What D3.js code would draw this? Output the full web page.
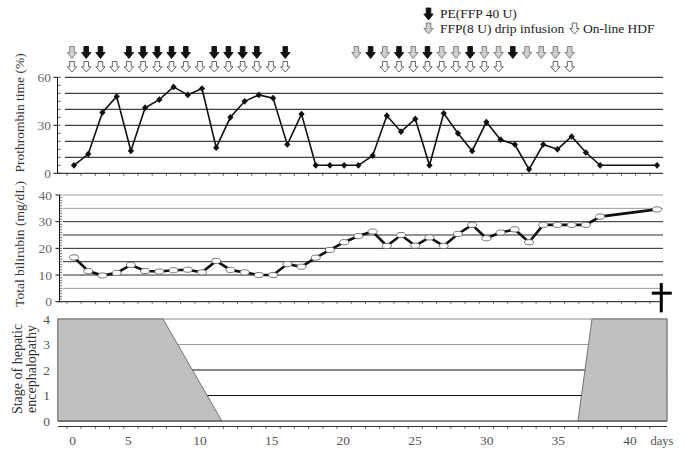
<!DOCTYPE html>
<html>
<head>
<meta charset="utf-8">
<script src="https://cdn.jsdelivr.net/npm/d3@7"></script>
<style>
  html, body { margin: 0; padding: 0; background: #fff; }
  svg { display: block; }
</style>
</head>
<body>
<svg id="chart" width="685" height="452" font-family="'Liberation Serif', 'Times New Roman', 'DejaVu Serif', serif"></svg>
<script>
// ---------------- DATA ----------------
const days = [0,1,2,3,4,5,6,7,8,9,10,11,12,13,14,15,16,17,18,19,20,21,22,23,24,25,26,27,28,29,30,31,32,33,34,35,36,37,41];
const prothrombin = [5,12,38,48,14,41,46,54,49,53,16,35,45,49,47,18,37,5,5,5,5,11,36,26,34,5,37.5,25,14,32,21,18,2.5,18,15,23,13,5,5];
const bilirubin = [16.6,11.5,9.8,10.8,13.8,11.5,11.3,11.8,12,11,15.3,11.9,11,10,10,14.1,13.1,16.5,19.4,22.3,24.6,26.3,20.9,25,21,24.1,20.9,25.4,28.8,23.8,25.9,27.1,22.3,28.8,28.8,28.8,28.8,31.9,34.6];
const peDays = [1,2,4,5,6,7,8,10,11,12,13,15,21,23,25,28,31];
const ffpDripDays = [0,20,22,24,26,27,29,30,32,33,34,35];
const hdfDays = [0,1,2,3,4,5,6,7,8,9,10,11,12,13,14,15,22,23,24,25,26,27,28,29,30,34,35];
const stageDays = [-1.13, 6.26, 10.4, 35.44, 36.43, 41.7];
const stageValues = [4, 4, 0, 0, 4, 4];
const deathDay = 41.3;
const dayTickLabels = [0,5,10,15,20,25,30,35,40];
const ptTicks = [0,30,60];
const tbTicks = [0,10,20,30,40];
const stageTicks = [0,1,2,3,4];
const legendItems = ["PE(FFP 40 U)", "FFP(8 U) drip infusion", "On-line HDF"];
const yTitles = ["Prothrombin time (%)", "Total bilirubin (mg/dL)"];
const stageTitle = ["Stage of hepatic", "encephalopathy"];

// ---------------- SCALES ----------------
const svg = d3.select("#chart");
const x = d3.scaleLinear().domain([0, 41]).range([74, 657]);
const xLab = d3.scaleLinear().domain([0, 5, 40]).range([72.7, 128.3, 630]);
const yPT = d3.scaleLinear().domain([0, 60]).range([173.3, 77.3]);
const yTB = d3.scaleLinear().domain([0, 40]).range([301.7, 195]);
const yST = d3.scaleLinear().domain([0, 4]).range([421, 319]);

const gridL = 65, gridR = 663;
const halfTicks = d3.range(-0.5, 41, 1);

// ---------------- LEGEND ----------------
const arrowPath = (h) => `M-2.3,0H2.3V${h*0.5}H4.7L0,${h}L-4.7,${h*0.5}H-2.3Z`;
const arrowStyles = {
  pe:  {fill: "#111", stroke: "#111"},
  ffp: {fill: "#cfcfcf", stroke: "#777"},
  hdf: {fill: "#fff", stroke: "#555"}
};
function arrow(g, cx, y0, h, style) {
  g.append("path").attr("d", arrowPath(h))
    .attr("transform", `translate(${cx},${y0})`)
    .attr("fill", arrowStyles[style].fill)
    .attr("stroke", arrowStyles[style].stroke)
    .attr("stroke-width", 0.9);
}
const leg = svg.append("g");
arrow(leg, 428.5, 8, 12, "pe");
leg.append("text").attr("x", 440).attr("y", 18).attr("font-size", 13.5).attr("fill", "#222").text(legendItems[0]);
arrow(leg, 428.5, 23, 11, "ffp");
leg.append("text").attr("x", 440).attr("y", 33).attr("font-size", 13.5).attr("fill", "#222").text(legendItems[1]);
arrow(leg, 574.5, 23, 11, "hdf");
leg.append("text").attr("x", 583).attr("y", 33).attr("font-size", 13.5).attr("fill", "#222").text(legendItems[2]);

// ---------------- TREATMENT ARROWS ----------------
const arr = svg.append("g");
peDays.forEach(d => arrow(arr, x(d) - 2, 46.5, 12, "pe"));
ffpDripDays.forEach(d => arrow(arr, x(d) - 2, 46.5, 12, "ffp"));
hdfDays.forEach(d => arrow(arr, x(d) - 2, 61.5, 10.5, "hdf"));

// ---------------- TOP PANEL: PROTHROMBIN ----------------
const gTop = svg.append("g");
gTop.selectAll("line.grid").data(d3.range(10, 61, 10)).join("line")
  .attr("x1", gridL).attr("x2", gridR)
  .attr("y1", d => yPT(d)).attr("y2", d => yPT(d))
  .attr("stroke", "#111").attr("stroke-width", 1);
gTop.append("line").attr("x1", 57).attr("x2", gridR).attr("y1", yPT(0)).attr("y2", yPT(0)).attr("stroke", "#111");
gTop.selectAll("line.xt").data(halfTicks).join("line")
  .attr("x1", d => x(d)).attr("x2", d => x(d))
  .attr("y1", yPT(0)).attr("y2", yPT(0) + 2.5).attr("stroke", "#333").attr("stroke-width", 0.8);
gTop.append("line").attr("x1", 57.5).attr("x2", 57.5).attr("y1", yPT(60)).attr("y2", yPT(0)).attr("stroke", "#111");
gTop.selectAll("line.ym").data(d3.range(0, 61, 5)).join("line")
  .attr("x1", 57.5).attr("x2", 60.5).attr("y1", d => yPT(d)).attr("y2", d => yPT(d)).attr("stroke", "#222").attr("stroke-width", 0.8);
gTop.selectAll("line.yM").data(ptTicks).join("line")
  .attr("x1", 53.5).attr("x2", 57.5).attr("y1", d => yPT(d)).attr("y2", d => yPT(d)).attr("stroke", "#111");
gTop.selectAll("text.yl").data(ptTicks).join("text")
  .attr("x", 51).attr("y", d => yPT(d) + 4.5).attr("text-anchor", "end")
  .attr("font-size", 13.5).attr("fill", "#666").text(d => d);
const ptPts = days.map((d, i) => [d, prothrombin[i]]);
gTop.append("path").datum(ptPts)
  .attr("d", d3.line().x(d => x(d[0])).y(d => yPT(d[1])))
  .attr("fill", "none").attr("stroke", "#111").attr("stroke-width", 1.6);
gTop.selectAll("path.pm").data(ptPts).join("path")
  .attr("d", d3.symbol(d3.symbolDiamond, 20))
  .attr("transform", d => `translate(${x(d[0])},${yPT(d[1])}) scale(1.3,0.8)`)
  .attr("fill", "#111");

// ---------------- MIDDLE PANEL: BILIRUBIN ----------------
const gMid = svg.append("g");
const tbGridColor = v => ([5, 35, 40].includes(v) ? "#999" : "#2a2a2a");
gMid.selectAll("line.grid").data(d3.range(5, 41, 5)).join("line")
  .attr("x1", 63).attr("x2", gridR)
  .attr("y1", d => yTB(d)).attr("y2", d => yTB(d))
  .attr("stroke", d => tbGridColor(d)).attr("stroke-width", 1);
gMid.append("line").attr("x1", 58).attr("x2", gridR).attr("y1", yTB(0)).attr("y2", yTB(0)).attr("stroke", "#111");
gMid.selectAll("line.xt").data(halfTicks).join("line")
  .attr("x1", d => x(d)).attr("x2", d => x(d))
  .attr("y1", yTB(0)).attr("y2", yTB(0) + 2.5).attr("stroke", "#555").attr("stroke-width", 0.8);
gMid.append("line").attr("x1", 59.5).attr("x2", 59.5).attr("y1", yTB(40)).attr("y2", yTB(0)).attr("stroke", "#111");
gMid.selectAll("line.ym").data(d3.range(0, 41, 1)).join("line")
  .attr("x1", 59.5).attr("x2", 62).attr("y1", d => yTB(d)).attr("y2", d => yTB(d)).attr("stroke", "#333").attr("stroke-width", 0.7);
gMid.selectAll("line.yM").data(tbTicks).join("line")
  .attr("x1", 55.5).attr("x2", 59.5).attr("y1", d => yTB(d)).attr("y2", d => yTB(d)).attr("stroke", "#111");
gMid.selectAll("text.yl").data(tbTicks).join("text")
  .attr("x", 52).attr("y", d => yTB(d) + 4.5).attr("text-anchor", "end")
  .attr("font-size", 13.5).attr("fill", "#666").text(d => d);
const tbPts = days.map((d, i) => [d, bilirubin[i]]);
gMid.append("path").datum(tbPts)
  .attr("d", d3.line().x(d => x(d[0])).y(d => yTB(d[1])))
  .attr("fill", "none").attr("stroke", "#111").attr("stroke-width", 2.6);
gMid.selectAll("ellipse").data(tbPts).join("ellipse")
  .attr("cx", d => x(d[0])).attr("cy", d => yTB(d[1]))
  .attr("rx", 4.5).attr("ry", 2.6)
  .attr("fill", "#fff").attr("stroke", "#666").attr("stroke-width", 0.9);
const gCross = svg.append("g");
gCross.append("line").attr("x1", x(deathDay)).attr("x2", x(deathDay))
  .attr("y1", yTB(7)).attr("y2", yTB(-4)).attr("stroke", "#000").attr("stroke-width", 3);
gCross.append("line").attr("x1", x(deathDay) - 9.5).attr("x2", x(deathDay) + 10.5)
  .attr("y1", yTB(3.2)).attr("y2", yTB(3.2)).attr("stroke", "#000").attr("stroke-width", 3);

// ---------------- BOTTOM PANEL: ENCEPHALOPATHY ----------------
const gBot = svg.append("g");
const pL = x(stageDays[0]), pR = x(stageDays[stageDays.length - 1]);
gBot.append("rect").attr("x", pL).attr("y", yST(4)).attr("width", pR - pL).attr("height", yST(0) - yST(4))
  .attr("fill", "#fff").attr("stroke", "#888");
gBot.selectAll("line.grid").data([1, 2, 3]).join("line")
  .attr("x1", pL).attr("x2", pR).attr("y1", d => yST(d)).attr("y2", d => yST(d))
  .attr("stroke", d => d === 3 ? "#999" : "#111").attr("stroke-width", 1);
const stPts = stageDays.map((d, i) => [d, stageValues[i]]);
const area = d3.area().x(d => x(d[0])).y0(yST(0)).y1(d => yST(d[1]));
gBot.append("path").datum(stPts.slice(0, 3)).attr("d", area)
  .attr("fill", "#c0c0c0").attr("stroke", "#666").attr("stroke-width", 0.9);
gBot.append("path").datum(stPts.slice(3)).attr("d", area)
  .attr("fill", "#c0c0c0").attr("stroke", "#666").attr("stroke-width", 0.9);
gBot.append("line").attr("x1", pL).attr("x2", pR).attr("y1", yST(0)).attr("y2", yST(0)).attr("stroke", "#555");
gBot.selectAll("text.yl").data(stageTicks).join("text")
  .attr("x", 50).attr("y", d => yST(d) + 4.5).attr("text-anchor", "end")
  .attr("font-size", 13.5).attr("fill", "#555").text(d => d);

const gAx = svg.append("g");
const axY = 426.5;
gAx.append("line").attr("x1", pL).attr("x2", pR).attr("y1", axY).attr("y2", axY).attr("stroke", "#333");
gAx.selectAll("line.xt").data(halfTicks).join("line")
  .attr("x1", d => x(d)).attr("x2", d => x(d)).attr("y1", axY).attr("y2", axY + 2.5)
  .attr("stroke", "#444").attr("stroke-width", 0.8);
gAx.selectAll("text.xl").data(dayTickLabels).join("text")
  .attr("x", d => xLab(d)).attr("y", 445).attr("text-anchor", "middle")
  .attr("font-size", 13.5).attr("fill", "#555").text(d => d);
gAx.append("text").attr("x", 662).attr("y", 445).attr("text-anchor", "middle")
  .attr("font-size", 12.5).attr("fill", "#555").text("days");

// ---------------- AXIS TITLES ----------------
const gTitles = svg.append("g").attr("font-size", 13.5).attr("fill", "#333");
gTitles.append("text").attr("transform", "translate(24,113) rotate(-90)").attr("text-anchor", "middle").text(yTitles[0]);
gTitles.append("text").attr("transform", "translate(24,244) rotate(-90)").attr("text-anchor", "middle").text(yTitles[1]);
gTitles.append("text").attr("transform", "translate(22,369) rotate(-90)").attr("text-anchor", "middle").attr("font-size", 14).text(stageTitle[0]);
gTitles.append("text").attr("transform", "translate(36,369) rotate(-90)").attr("text-anchor", "middle").attr("font-size", 14).text(stageTitle[1]);
</script>
</body>
</html>
